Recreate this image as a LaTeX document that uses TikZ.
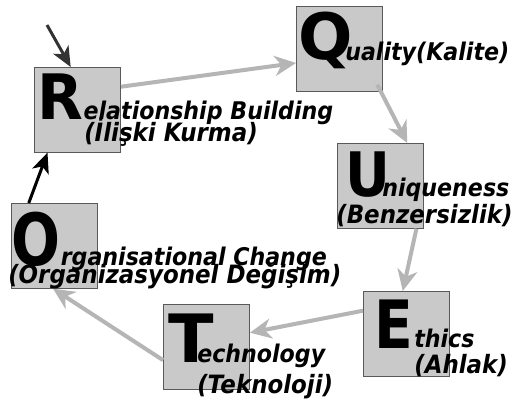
\documentclass[tikz,border=0pt]{standalone}
\usepackage{graphicx}
\usepackage{fontspec}
\setmainfont{DejaVu Sans}
\usetikzlibrary{arrows.meta}

% big first letter: size, horizontal squeeze, letter
\newcommand{\initcap}[3]{\scalebox{#2}[1]{\fontsize{#1}{#1}\selectfont #3}}
% words are set a little taller than wide
\newcommand{\tall}[1]{\scalebox{1}[1.1]{#1}}

\begin{document}
\begin{tikzpicture}[x=0.75pt,y=-0.75pt,
    square/.style={draw=black!65,fill=black!21,line width=0.75pt,
        minimum width=64.5pt,minimum height=63.5pt,inner sep=0pt,anchor=north west},
    initial/.style={font=\bfseries,anchor=base west,inner sep=0pt},
    word/.style={font=\bfseries\itshape\fontsize{16.6}{18}\selectfont,anchor=base west,inner sep=0pt},
    gloss/.style={word,font=\bfseries\itshape\fontsize{17.2}{18}\selectfont},
    flow/.style={draw=black!29,line width=3pt,-{Stealth[length=16pt,width=15pt,inset=5pt]}},
    back/.style={draw=black,line width=2.25pt,-{Stealth[length=15pt,width=13pt,inset=4pt]}},
    ]

    % frame of the picture
    \useasboundingbox[fill=white] (0,0) rectangle (514,403);

    % the six squares
    \node[square] (r) at (34,67) {};
    \node[square] (q) at (296,6) {};
    \node[square] (u) at (337,143) {};
    \node[square] (e) at (363,291) {};
    \node[square] (t) at (163,304) {};
    \node[square] (o) at (11,203) {};

    % cycle
    \draw[flow] (r.28) -- (q.198);
    \draw[flow, shorten <=-6pt] (q.-46) -- (u.58);
    \draw[flow] (u.-50) -- (e.95);
    \draw[flow] (e.152) -- (t.18);
    \draw[flow] (t.197) -- (o.-92);
    \draw[back] (o.121) -- (r.235);
    \coordinate (in) at (47,25);
    \draw[back, draw=black!80] (in) -- (r.99);

    % letters and words
    \node[initial] (rl) at (37,119) {\initcap{47}{0.95}{R}};
    \node[word] (rw) at (rl.base east) {\tall{elationship Building}};
    \node[gloss] (rt) at (84,141) {\tall{(İlişki Kurma)}};

    \node[initial] (ql) at (298,60) {\initcap{48}{1}{Q}};
    \node[word] (qw) at (345,61) {\tall{uality(Kalite)}};

    \node[initial] (ul) at (345,196) {\initcap{46}{0.9}{U}};
    \node[word] (uw) at (382,196) {\tall{niqueness}};
    \node[gloss] (ut) at (336,223) {\tall{(Benzersizlik)}};

    \node[initial] (ol) at (11,265) {\initcap{54}{0.8}{O}};
    \node[word] (ow) at (ol.base east) {\tall{rganisational Change}};
    \node[gloss] (ot) at (8,283) {\tall{(Organizasyonel Değişim)}};

    \node[initial] (tl) at (168,362) {\initcap{50}{1}{T}};
    \node[word] (tw) at (197,362) {\tall{echnology}};
    \node[gloss] (tt) at (197,393) {\tall{(Teknoloji)}};

    \node[initial] (el) at (374,348) {\initcap{50}{0.85}{E}};
    \node[word] (ew) at (414,347) {\tall{thics}};
    \node[gloss] (et) at (414,373) {\tall{(Ahlak)}};
\end{tikzpicture}
\end{document}
